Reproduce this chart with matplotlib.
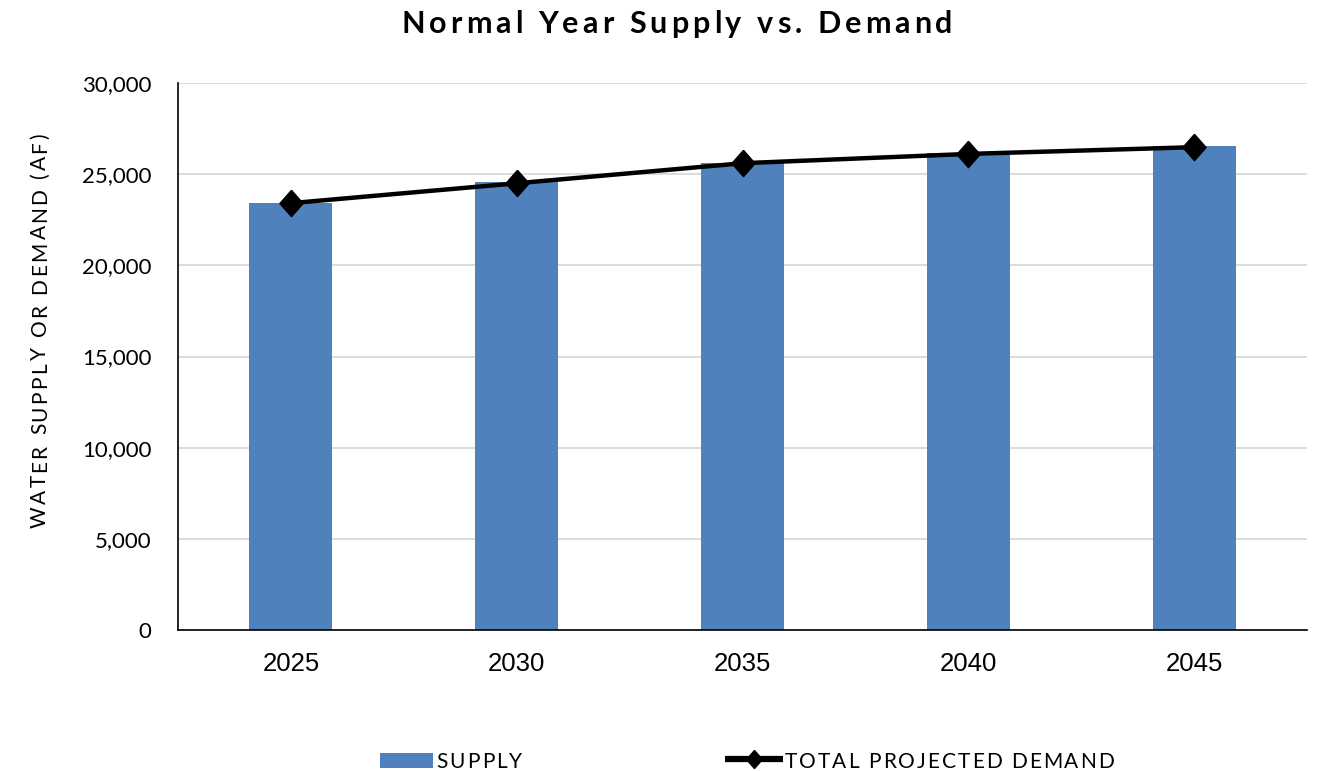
import numpy as np
import matplotlib
matplotlib.use("Agg")
import matplotlib.pyplot as plt
from matplotlib.ticker import FuncFormatter
from matplotlib.lines import Line2D
from matplotlib.patches import Rectangle
from matplotlib.font_manager import FontProperties, findfont
from matplotlib.ft2font import FT2Font
from matplotlib.transforms import offset_copy

# ─── Data (acre-feet) ─────────────────────────────────────────────────────────
YEARS = ["2025", "2030", "2035", "2040", "2045"]
SUPPLY = [23440, 24560, 25620, 26150, 26540]
DEMAND = [23410, 24500, 25600, 26110, 26480]
Y_TICKS = [0, 5000, 10000, 15000, 20000, 25000, 30000]

BAR_COLOR = "#4F81BD"
GRID_COLOR = "#D9D9D9"
CAL_FONT = ["Lato", "DejaVu Sans"]       # stand-in for Calibri
ARIAL_FONT = ["Liberation Sans", "DejaVu Sans"]

DIAMOND = [(0, 1), (0.88, 0), (0, -1), (-0.88, 0), (0, 1)]

W, H = 1317, 771


def fx(px):
    return px / W


def fy(px):
    return 1 - px / H


def tracked_text(fig, x, y, s, size, track, weight="normal", rotation=0, ha="center"):
    """Text with extra letter spacing (track, in points), drawn char by char."""
    prop = FontProperties(family=CAL_FONT, size=size, weight=weight)
    ft = FT2Font(findfont(prop))
    ft.set_size(size, 72)
    adv = [ft.load_char(ord(c)).linearHoriAdvance / 65536 for c in s]
    total = sum(adv) + track * (len(s) - 1)
    pos = -total / 2 if ha == "center" else 0.0
    for c, a in zip(s, adv):
        dx, dy = (pos, 0) if rotation == 0 else (0, pos)
        tr = offset_copy(fig.transFigure, fig=fig, x=dx, y=dy, units="points")
        fig.text(x, y, c, transform=tr, fontproperties=prop, rotation=rotation,
                 rotation_mode="anchor", ha="left", va="baseline")
        pos += a + track


fig = plt.figure(figsize=(W / 100, H / 100), dpi=100)
ax = fig.add_axes([fx(178), fy(630), fx(1307) - fx(178), fy(83) - fy(630)])

x = np.arange(len(YEARS))
ax.bar(x, SUPPLY, width=0.367, color=BAR_COLOR, zorder=2)
ax.plot(x, DEMAND, color="black", lw=3.2, marker=DIAMOND, markersize=19,
        markerfacecolor="black", markeredgecolor="black", zorder=3)

# ─── Axes ────────────────────────────────────────────────────────────────────
ax.set_xlim(-0.5, len(YEARS) - 0.5)
ax.set_ylim(0, 30000)
ax.set_yticks(Y_TICKS)
ax.yaxis.set_major_formatter(FuncFormatter(lambda v, p: f"{int(v):,}"))
ax.set_xticks(x)
ax.set_xticklabels(YEARS)

for lab in ax.get_yticklabels():
    lab.set_family(CAL_FONT)
    lab.set_fontsize(16)
for lab in ax.get_xticklabels():
    lab.set_family(ARIAL_FONT)
    lab.set_fontsize(18.5)

ax.tick_params(axis="y", length=0, pad=19)
ax.tick_params(axis="x", length=0, pad=16)

ax.yaxis.grid(True, color=GRID_COLOR, lw=1.3, zorder=0)
ax.set_axisbelow(True)
for side in ["top", "right"]:
    ax.spines[side].set_visible(False)
for side in ["left", "bottom"]:
    ax.spines[side].set_color("black")
    ax.spines[side].set_linewidth(1.2)

# ─── Titles ──────────────────────────────────────────────────────────────────
tracked_text(fig, fx(677), fy(33.3), "Normal Year Supply vs. Demand",
             size=22, track=2.9, weight="bold")
tracked_text(fig, fx(46), fy(330.5), "WATER SUPPLY OR DEMAND (AF)",
             size=15, track=1.8, rotation=90)

# ─── Legend ──────────────────────────────────────────────────────────────────
fig.add_artist(Rectangle((fx(380), fy(768)), fx(433) - fx(380), fy(753) - fy(768),
                         transform=fig.transFigure, facecolor=BAR_COLOR, edgecolor="none"))
tracked_text(fig, fx(436), fy(768), "SUPPLY", size=15, track=1.6, ha="left")

fig.add_artist(Line2D([fx(725), fx(783)], [fy(759), fy(759)], transform=fig.transFigure,
                      color="black", lw=4.5, solid_capstyle="butt"))
fig.add_artist(Line2D([fx(754)], [fy(759)], transform=fig.transFigure, marker=DIAMOND,
                      markersize=13, color="black", lw=0))
tracked_text(fig, fx(785), fy(768), "TOTAL PROJECTED DEMAND", size=15, track=1.45, ha="left")

fig.savefig("out.png", dpi=100)
